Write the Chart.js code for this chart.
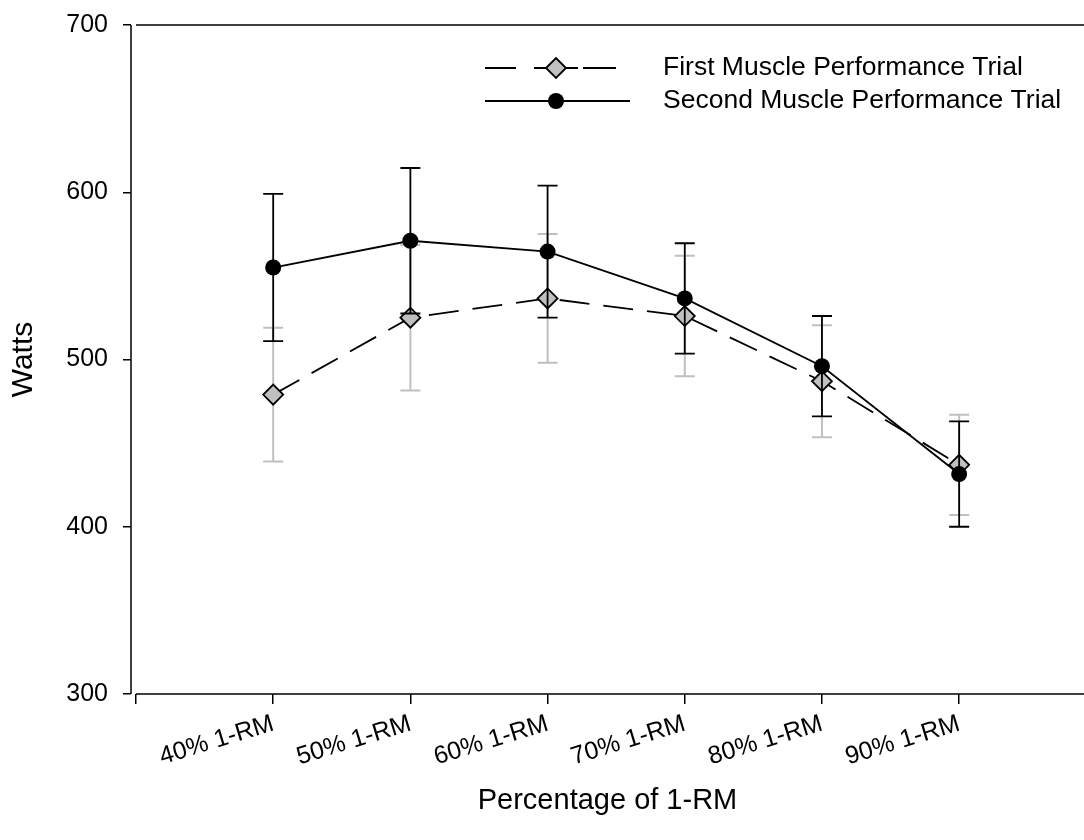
<!DOCTYPE html>
<html>
<head>
<meta charset="utf-8">
<script src="https://cdn.jsdelivr.net/npm/chart.js@4.4.1/dist/chart.umd.min.js"></script>
<style>
  html, body { margin: 0; padding: 0; background: #fff; overflow: hidden; width: 1084px; height: 840px; }
  #wrap { position: relative; width: 1084px; height: 840px; overflow: hidden; }
  #c { display: block; }
</style>
</head>
<body>
<div id="wrap"><canvas id="c"></canvas></div>
<script>
// ---- data ----
const categories = ['40% 1-RM', '50% 1-RM', '60% 1-RM', '70% 1-RM', '80% 1-RM', '90% 1-RM'];
const seriesNames = ['First Muscle Performance Trial', 'Second Muscle Performance Trial'];
const firstTrial = [479, 525, 536.5, 526, 487, 437];
const firstErr = [40, 43.5, 38.5, 36, 33.5, 30];
const secondTrial = [555, 571, 564.5, 536.5, 496, 431.5];
const secondErr = [44, 43.5, 39.5, 33, 30, 31.5];
const yTicks = [300, 400, 500, 600, 700];
const xTitle = 'Percentage of 1-RM';
const yTitle = 'Watts';

const FONT = '"Liberation Sans", Arial, sans-serif';
const GRAY = '#c0c0c0';
const xPos = categories.map((c, i) => i + 1);
const X_MIN = -0.0364, X_MAX = 6.91;
const toPts = arr => arr.map((v, i) => ({ x: xPos[i], y: v }));

const errorSets = [
  { values: firstTrial, errs: firstErr, color: GRAY, width: 2 },
  { values: secondTrial, errs: secondErr, color: '#000', width: 1.8 }
];

const decorPlugin = {
  id: 'decor',
  beforeDatasetsDraw(chart) {
    const { ctx, chartArea, scales } = chart;
    const xs = scales.x;
    const x0 = xs.getPixelForValue(0);
    const xr = xs.getPixelForValue(xs.max);
    ctx.save();
    ctx.strokeStyle = '#000';
    ctx.lineWidth = 1.5;
    ctx.beginPath();
    ctx.moveTo(chartArea.left, chartArea.top);
    ctx.lineTo(chartArea.left, chartArea.bottom);
    ctx.moveTo(x0, chartArea.bottom);
    ctx.lineTo(xr, chartArea.bottom);
    ctx.moveTo(x0, chartArea.top);
    ctx.lineTo(xr, chartArea.top);
    ctx.stroke();
    ctx.restore();
  },
  beforeDatasetDraw(chart, args) {
    const es = errorSets[args.index];
    if (!es) return;
    const { ctx, scales } = chart;
    ctx.save();
    ctx.strokeStyle = es.color;
    ctx.lineWidth = es.width;
    ctx.beginPath();
    es.values.forEach((v, i) => {
      const x = scales.x.getPixelForValue(xPos[i]);
      const yt = scales.y.getPixelForValue(v + es.errs[i]);
      const yb = scales.y.getPixelForValue(v - es.errs[i]);
      ctx.moveTo(x, yt); ctx.lineTo(x, yb);
      ctx.moveTo(x - 10, yt); ctx.lineTo(x + 10, yt);
      ctx.moveTo(x - 10, yb); ctx.lineTo(x + 10, yb);
    });
    ctx.stroke();
    ctx.restore();
  },
  afterDraw(chart) {
    const { ctx } = chart;
    const ds = chart.data.datasets;
    ctx.save();
    const r1 = 68, r2 = 101, mx = 556, tx = 663;
    ctx.strokeStyle = '#000';
    ctx.lineWidth = 1.8;
    ctx.beginPath();
    [[485, 516], [534, 578], [583, 616]].forEach(s => { ctx.moveTo(s[0], r1); ctx.lineTo(s[1], r1); });
    ctx.moveTo(485, r2); ctx.lineTo(630, r2);
    ctx.stroke();
    // diamond marker
    const rr = ds[0].pointRadius;
    ctx.fillStyle = ds[0].pointBackgroundColor;
    ctx.strokeStyle = ds[0].pointBorderColor;
    ctx.lineWidth = ds[0].pointBorderWidth;
    ctx.beginPath();
    ctx.moveTo(mx - rr, r1); ctx.lineTo(mx, r1 - rr); ctx.lineTo(mx + rr, r1); ctx.lineTo(mx, r1 + rr); ctx.closePath();
    ctx.fill(); ctx.stroke();
    // circle marker
    ctx.fillStyle = '#000';
    ctx.beginPath();
    ctx.arc(mx, r2, ds[1].pointRadius, 0, Math.PI * 2);
    ctx.fill();
    // text
    ctx.fillStyle = '#000';
    ctx.font = '26.5px ' + FONT;
    ctx.textBaseline = 'middle';
    ctx.textAlign = 'left';
    ctx.fillText(seriesNames[0], tx, r1);
    ctx.fillText(seriesNames[1], tx, r2);
    ctx.restore();
  }
};

new Chart(document.getElementById('c'), {
  type: 'line',
  data: {
    datasets: [
      {
        label: seriesNames[0],
        data: toPts(firstTrial),
        borderColor: '#000',
        borderWidth: 1.8,
        borderDash: [30, 14],
        pointStyle: 'rectRot',
        pointRadius: 10,
        pointBackgroundColor: GRAY,
        pointBorderColor: '#000',
        pointBorderWidth: 1.8,
        tension: 0,
        fill: false,
        clip: false,
        order: 1
      },
      {
        label: seriesNames[1],
        data: toPts(secondTrial),
        borderColor: '#000',
        borderWidth: 1.8,
        pointStyle: 'circle',
        pointRadius: 8,
        pointBackgroundColor: '#000',
        pointBorderColor: '#000',
        pointBorderWidth: 0,
        tension: 0,
        fill: false,
        clip: false,
        order: 0
      }
    ]
  },
  options: {
    responsive: true,
    maintainAspectRatio: false,
    animation: false,
    events: [],
    layout: { autoPadding: false, padding: { top: 25, right: 0, left: 0, bottom: 0 } },
    plugins: { legend: { display: false }, tooltip: { enabled: false } },
    scales: {
      x: {
        type: 'linear',
        min: X_MIN,
        max: X_MAX,
        border: { display: false },
        grid: { display: true, drawOnChartArea: false, drawTicks: true, tickLength: 10, color: '#000', lineWidth: 1.5 },
        afterBuildTicks: s => { s.ticks = [0].concat(xPos).concat([X_MAX]).map(v => ({ value: v })); },
        afterFit: s => { s.height = 146; },
        ticks: {
          autoSkip: false,
          minRotation: 17,
          maxRotation: 17,
          padding: 5,
          color: '#000',
          font: { family: FONT, size: 25 },
          callback: v => {
            if (v === 0) return '';
            const i = xPos.indexOf(v);
            return i >= 0 ? categories[i] : null;
          }
        },
        title: {
          display: true,
          text: xTitle,
          color: '#000',
          font: { family: FONT, size: 29 },
          padding: { top: 0, bottom: 22 }
        }
      },
      y: {
        type: 'linear',
        min: 300,
        max: 700,
        border: { display: false },
        grid: { display: true, drawOnChartArea: false, drawTicks: true, tickLength: 8, color: '#000', lineWidth: 1.5 },
        afterBuildTicks: s => { s.ticks = yTicks.map(v => ({ value: v })); },
        afterFit: s => { s.width = 131; s.paddingTop = 0; s.paddingBottom = 0; },
        ticks: {
          padding: 15,
          color: '#000',
          font: { family: FONT, size: 25 }
        },
        title: {
          display: true,
          text: yTitle,
          color: '#000',
          font: { family: FONT, size: 30 },
          padding: { top: 6, bottom: 0 }
        }
      }
    }
  },
  plugins: [decorPlugin]
});
</script>
</body>
</html>
